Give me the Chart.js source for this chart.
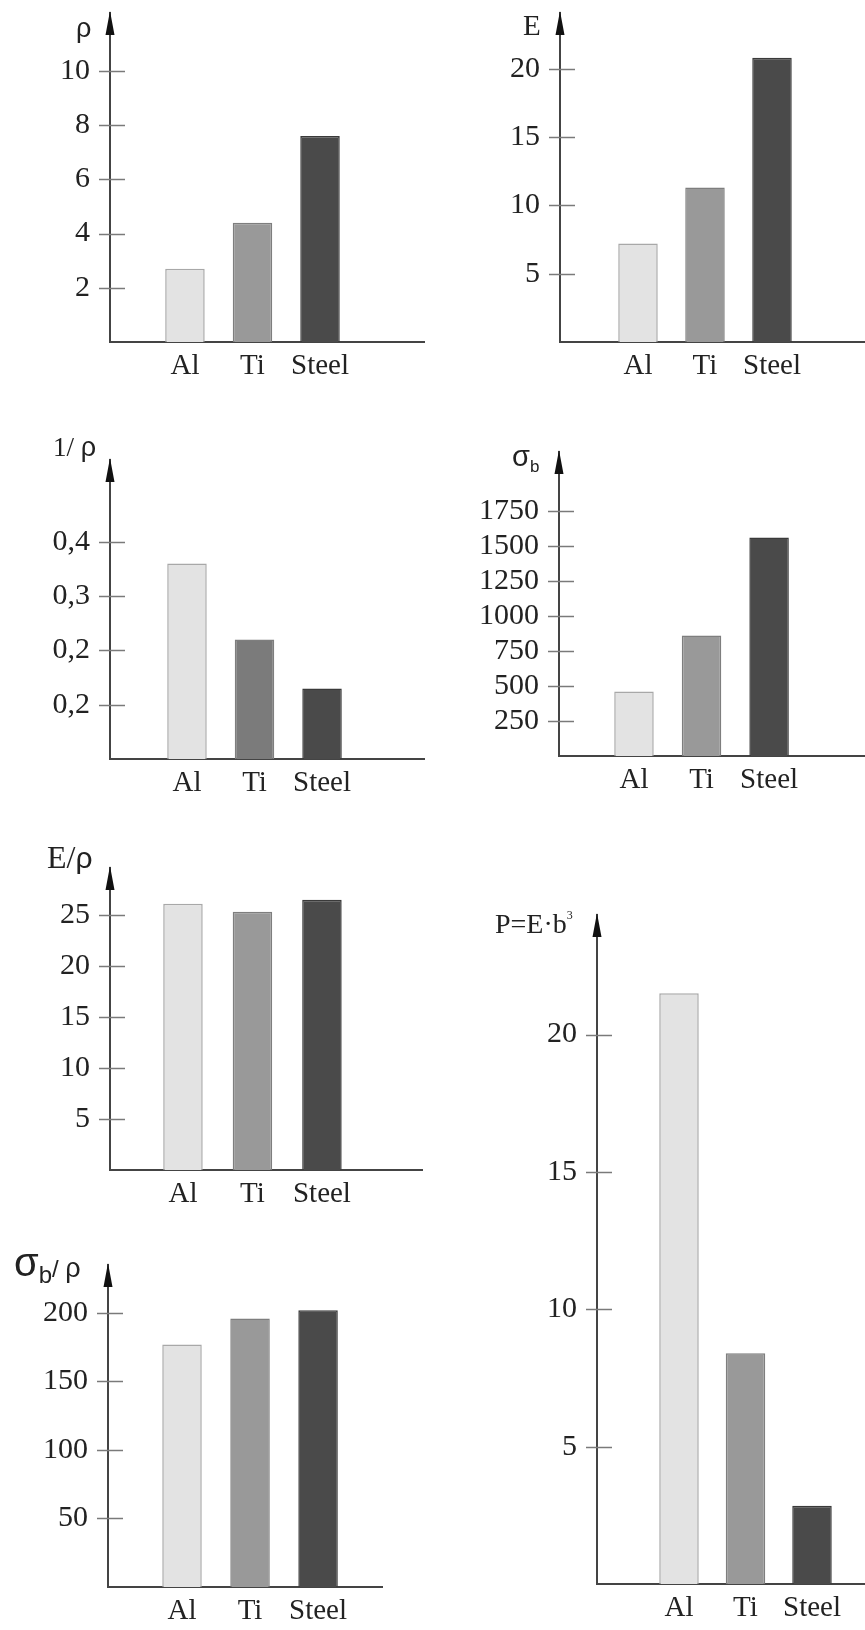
<!DOCTYPE html>
<html>
<head>
<meta charset="utf-8">
<script src="https://cdn.jsdelivr.net/npm/chart.js@4.4.0/dist/chart.umd.min.js"></script>
<style>
  html, body { margin: 0; padding: 0; background: #fff; }
  #page { position: relative; width: 865px; height: 1630px; overflow: hidden; }
  #page canvas { position: absolute; }
</style>
</head>
<body>
<div id="page"></div>
<script>
const materials = ['Al', 'Ti', 'Steel'];

// bar heights
const density = [2.7, 4.4, 7.6];
const modulus = [7.2, 11.3, 20.8];
const invDensity = [0.36, 0.22, 0.13];
const strength = [460, 860, 1560];
const specModulus = [26.1, 25.3, 26.5];
const specStrength = [177, 196, 202];
const stiffness = [21.5, 8.4, 2.85];

// tick values (and printed labels where they differ)
const densityTicks = [2, 4, 6, 8, 10];
const modulusTicks = [5, 10, 15, 20];
const invDensityTicks = [0.1, 0.2, 0.3, 0.4];
const invDensityTickLabels = ['0,2', '0,2', '0,3', '0,4'];
const strengthTicks = [250, 500, 750, 1000, 1250, 1500, 1750];
const specModulusTicks = [5, 10, 15, 20, 25];
const specStrengthTicks = [50, 100, 150, 200];
const stiffnessTicks = [5, 10, 15, 20];

// greys for Al / Ti / Steel
const fills = ['#e3e3e3', '#999999', '#4a4a4a'];
const fillsDark = ['#e3e3e3', '#7b7b7b', '#4a4a4a'];
const edges = ['#a8a8a8', '#7e7e7e', '#3a3a3a'];

const SERIF = '"Liberation Serif", "Times New Roman", serif';
const SANS = '"Liberation Sans", Arial, sans-serif';
const INK = '#222';

// axis arrow, short tick marks across the axis, and the axis name
const decor = {
  id: 'decor',
  afterDraw(chart, args, opts) {
    const { ctx, chartArea: area, scales: { y } } = chart;
    ctx.save();
    ctx.strokeStyle = '#7a7a7a';
    ctx.lineWidth = 1.5;
    y.ticks.forEach(t => {
      const py = Math.round(y.getPixelForValue(t.value)) + 0.5;
      ctx.beginPath();
      ctx.moveTo(area.left - 11, py);
      ctx.lineTo(area.left + 15, py);
      ctx.stroke();
    });

    ctx.fillStyle = '#111';
    ctx.beginPath();
    ctx.moveTo(area.left, area.top - 2);
    ctx.lineTo(area.left - 4.5, area.top + 22);
    ctx.lineTo(area.left + 4.5, area.top + 22);
    ctx.closePath();
    ctx.fill();

    // title position is given in page coordinates
    let x = opts.x - opts.offsetX;
    const yBase = opts.y - opts.offsetY;
    ctx.fillStyle = INK;
    ctx.textBaseline = 'alphabetic';
    ctx.textAlign = 'left';
    opts.parts.forEach(p => {
      ctx.font = p.size + 'px ' + p.family;
      ctx.fillText(p.text, x, yBase + (p.dy || 0));
      x += ctx.measureText(p.text).width;
    });
    ctx.restore();
  }
};

const panels = [
  { box: [0, 0, 432, 400], axisX: 110, right: 424, top: 13, base: 342, yMax: 12.14,
    xMin: -1.11, xMax: 3.54, values: density, ticks: densityTicks, colors: fills,
    title: { x: 76, y: 37, parts: [{ text: 'ρ', family: SANS, size: 27 }] } },
  { box: [432, 0, 433, 400], axisX: 560, right: 865, top: 13, base: 342, yMax: 24.07,
    xMin: -1.164, xMax: 3.388, values: modulus, ticks: modulusTicks, colors: fills,
    title: { x: 523, y: 35, parts: [{ text: 'E', family: SERIF, size: 29 }] } },
  { box: [0, 400, 432, 420], axisX: 110, right: 424, top: 460, base: 759, yMax: 0.5506,
    xMin: -1.14, xMax: 3.51, values: invDensity, ticks: invDensityTicks,
    tickLabels: invDensityTickLabels, colors: fillsDark,
    title: { x: 53, y: 456, parts: [{ text: '1/ ', family: SERIF, size: 27 }, { text: 'ρ', family: SANS, size: 27 }] } },
  { box: [432, 400, 433, 420], axisX: 559, right: 865, top: 452, base: 756, yMax: 2171,
    xMin: -1.11, xMax: 3.42, values: strength, ticks: strengthTicks, colors: fills,
    title: { x: 512, y: 466, parts: [{ text: 'σ', family: SANS, size: 29 }, { text: 'b', family: SANS, size: 17, dy: 6 }] } },
  { box: [0, 820, 432, 410], axisX: 110, right: 422, top: 868, base: 1170, yMax: 29.6,
    xMin: -1.05, xMax: 3.44, values: specModulus, ticks: specModulusTicks, colors: fills,
    title: { x: 47, y: 868, parts: [{ text: 'E/', family: SERIF, size: 32 }, { text: 'ρ', family: SANS, size: 30 }] } },
  { box: [0, 1230, 432, 400], axisX: 108, right: 382, top: 1265, base: 1587, yMax: 235,
    xMin: -1.088, xMax: 2.94, values: specStrength, ticks: specStrengthTicks, colors: fills,
    title: { x: 14, y: 1276, parts: [
      { text: 'σ', family: SANS, size: 40 }, { text: 'b', family: SANS, size: 24, dy: 7 },
      { text: '/ ', family: SANS, size: 24, dy: 1 }, { text: 'ρ', family: SANS, size: 27, dy: 1 }] } },
  { box: [432, 820, 433, 810], axisX: 597, right: 865, top: 915, base: 1584, yMax: 24.35,
    xMin: -1.233, xMax: 2.797, values: stiffness, ticks: stiffnessTicks, colors: fills,
    title: { x: 495, y: 933, parts: [{ text: 'P=E·b', family: SERIF, size: 28 }, { text: '3', family: SERIF, size: 12, dy: -14 }] } }
];

function makePanel(p) {
  const [L, T, W, H] = p.box;
  const canvas = document.createElement('canvas');
  canvas.width = W;
  canvas.height = H;
  canvas.style.left = L + 'px';
  canvas.style.top = T + 'px';
  canvas.style.width = W + 'px';
  canvas.style.height = H + 'px';
  document.getElementById('page').appendChild(canvas);

  const spacing = (p.right - p.axisX) / (p.xMax - p.xMin);

  new Chart(canvas, {
    type: 'bar',
    data: {
      datasets: [{
        data: p.values.map((v, i) => ({ x: i, y: v })),
        backgroundColor: p.colors,
        borderColor: edges,
        borderWidth: 1.5,
        categoryPercentage: 1,
        barPercentage: 39.5 / spacing
      }]
    },
    options: {
      responsive: false,
      animation: false,
      layout: { padding: { top: p.top - T, right: W - (p.right - L), left: 0, bottom: 0 } },
      plugins: {
        legend: { display: false },
        tooltip: { enabled: false },
        decor: { ...p.title, offsetX: L, offsetY: T }
      },
      scales: {
        x: {
          type: 'linear', min: p.xMin, max: p.xMax, bounds: 'data', offset: false,
          grid: { display: false, drawTicks: false },
          border: { display: true, color: '#444', width: 2 },
          afterBuildTicks: s => { s.ticks = materials.map((m, i) => ({ value: i })); },
          ticks: {
            autoSkip: false, maxRotation: 0, padding: 7, color: INK,
            font: { family: SERIF, size: 29 },
            callback: v => materials[v]
          },
          afterFit: s => { s.height = H - (p.base - T); s.paddingLeft = 0; s.paddingRight = 0; }
        },
        y: {
          min: 0, max: p.yMax, bounds: 'data',
          grid: { display: false, drawTicks: false },
          border: { display: true, color: '#444', width: 2 },
          afterBuildTicks: s => { s.ticks = p.ticks.map(v => ({ value: v })); },
          ticks: {
            autoSkip: false, padding: 20, color: INK,
            font: { family: SERIF, size: 30 },
            callback: (v, i) => p.tickLabels ? p.tickLabels[i] : String(v)
          },
          afterFit: s => { s.width = p.axisX - L; s.paddingTop = 0; s.paddingBottom = 0; }
        }
      }
    },
    plugins: [decor]
  });
}

panels.forEach(makePanel);
</script>
</body>
</html>
